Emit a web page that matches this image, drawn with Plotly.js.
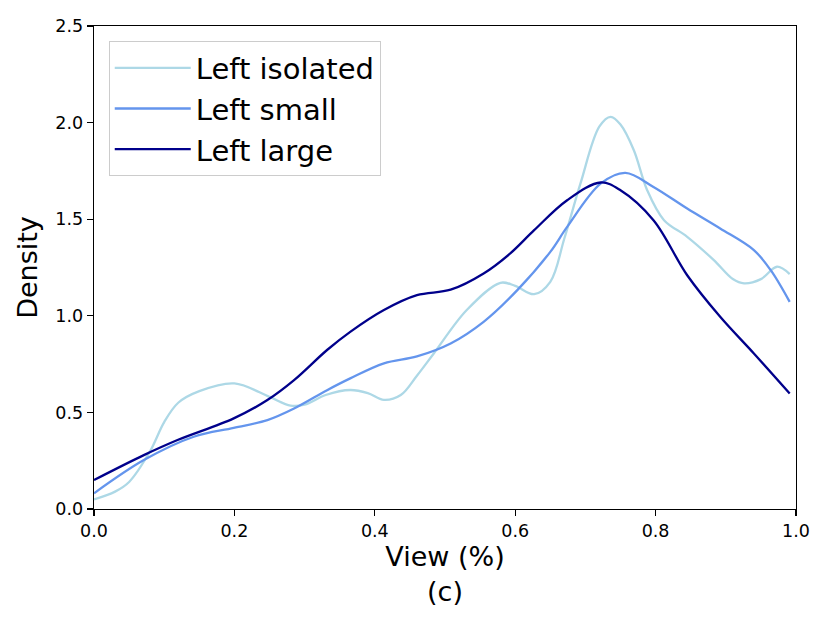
<!DOCTYPE html>
<html><head><meta charset="utf-8">
<script src="https://cdn.plot.ly/plotly-3.0.1.min.js"></script>
<style>html,body{margin:0;padding:0;background:#fff}#chart{width:830px;height:623px}</style>
</head><body><div id="chart"></div>
<script>
const isoX = [0.0, 0.03, 0.05, 0.08, 0.10, 0.12, 0.15, 0.20, 0.25, 0.28, 0.30, 0.33, 0.365, 0.39, 0.413, 0.437, 0.46, 0.484, 0.531, 0.579, 0.60, 0.627, 0.65, 0.67, 0.693, 0.72, 0.736, 0.75, 0.769, 0.788, 0.812, 0.845, 0.883, 0.91, 0.926, 0.95, 0.973, 0.991];
const isoY = [0.05, 0.09, 0.14, 0.30, 0.45, 0.55, 0.61, 0.65, 0.58, 0.535, 0.54, 0.59, 0.616, 0.60, 0.565, 0.59, 0.69, 0.805, 1.03, 1.171, 1.155, 1.112, 1.176, 1.40, 1.685, 1.98, 2.03, 1.99, 1.857, 1.65, 1.495, 1.409, 1.288, 1.19, 1.168, 1.19, 1.254, 1.216];
const smallX = [0.0, 0.071, 0.142, 0.199, 0.247, 0.285, 0.332, 0.365, 0.413, 0.46, 0.508, 0.555, 0.603, 0.65, 0.674, 0.722, 0.757, 0.797, 0.845, 0.892, 0.94, 0.964, 0.991];
const smallY = [0.081, 0.253, 0.374, 0.42, 0.46, 0.52, 0.615, 0.676, 0.754, 0.79, 0.857, 0.969, 1.133, 1.331, 1.46, 1.685, 1.74, 1.667, 1.555, 1.452, 1.34, 1.236, 1.072];
const largeX = [0.0, 0.071, 0.119, 0.199, 0.247, 0.285, 0.332, 0.365, 0.413, 0.46, 0.508, 0.555, 0.593, 0.627, 0.674, 0.722, 0.75, 0.797, 0.845, 0.892, 0.94, 0.991];
const largeY = [0.15, 0.279, 0.357, 0.469, 0.564, 0.667, 0.823, 0.917, 1.03, 1.107, 1.135, 1.219, 1.323, 1.443, 1.598, 1.69, 1.65, 1.495, 1.21, 0.995, 0.805, 0.598];
const seriesNames = ['Left isolated', 'Left small', 'Left large'];
const seriesColors = ['#ADD8E6', '#6495ED', '#00008B'];
const xTicks = [0.0, 0.2, 0.4, 0.6, 0.8, 1.0];
const yTicks = [0.0, 0.5, 1.0, 1.5, 2.0, 2.5];

const xs = [isoX, smallX, largeX];
const ys = [isoY, smallY, largeY];
const traces = seriesNames.map((n, i) => ({
  x: xs[i], y: ys[i], name: n, type: 'scatter', mode: 'lines',
  line: {color: seriesColors[i], width: 2.3, shape: 'spline', smoothing: 1}
}));
const axisCommon = {
  showline: true, mirror: true, linecolor: '#000', linewidth: 1.3,
  ticks: 'outside', ticklen: 6, tickwidth: 1.3, tickcolor: '#000',
  showgrid: false, zeroline: false, tickformat: '.1f',
  tickfont: {family: 'DejaVu Sans', size: 17.5, color: '#000'}
};
const layout = {
  width: 830, height: 623,
  margin: {l: 93.5, r: 34.3, t: 25.7, b: 114},
  paper_bgcolor: '#fff', plot_bgcolor: '#fff',
  font: {family: 'DejaVu Sans', color: '#000'},
  showlegend: true,
  legend: {
    x: 0.021, y: 0.968, xanchor: 'left', yanchor: 'top',
    bgcolor: 'rgba(255,255,255,0.8)', bordercolor: '#cccccc', borderwidth: 1,
    font: {family: 'DejaVu Sans', size: 29, color: '#000'},
    itemwidth: 76
  },
  xaxis: Object.assign({}, axisCommon, {
    range: [0, 1], tickvals: xTicks,
    title: {text: 'View (%)<br>(c)', font: {family: 'DejaVu Sans', size: 27, color: '#000'}, standoff: 6}
  }),
  yaxis: Object.assign({}, axisCommon, {
    range: [0, 2.5], tickvals: yTicks,
    title: {text: 'Density', font: {family: 'DejaVu Sans', size: 27, color: '#000'}, standoff: 10}
  })
};
Plotly.newPlot('chart', traces, layout, {displayModeBar: false, staticPlot: true});
</script></body></html>
